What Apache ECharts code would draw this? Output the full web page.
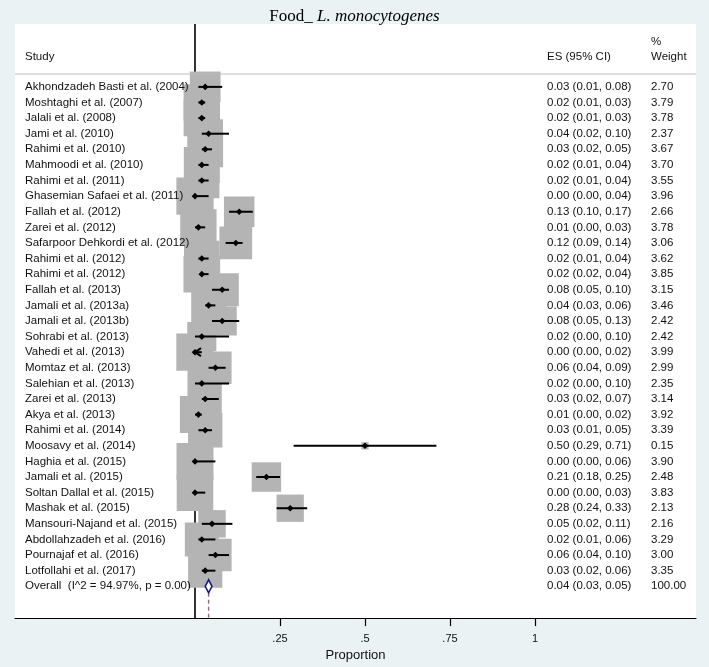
<!DOCTYPE html>
<html><head><meta charset="utf-8">
<script src="https://cdn.jsdelivr.net/npm/echarts@6/dist/echarts.min.js"></script>
<style>html,body{margin:0;padding:0;background:#eaf2f3}#c{width:709px;height:667px}</style>
</head><body><div id="c"></div>
<script>
// ---------- data ----------
const studies = [
  'Akhondzadeh Basti et al. (2004)', 'Moshtaghi et al. (2007)', 'Jalali et al. (2008)', 'Jami et al. (2010)',
  'Rahimi et al. (2010)', 'Mahmoodi et al. (2010)', 'Rahimi et al. (2011)', 'Ghasemian Safaei et al. (2011)',
  'Fallah et al. (2012)', 'Zarei et al. (2012)', 'Safarpoor Dehkordi et al. (2012)', 'Rahimi et al. (2012)',
  'Rahimi et al. (2012)', 'Fallah et al. (2013)', 'Jamali et al. (2013a)', 'Jamali et al. (2013b)',
  'Sohrabi et al. (2013)', 'Vahedi et al. (2013)', 'Momtaz et al. (2013)', 'Salehian et al. (2013)',
  'Zarei et al. (2013)', 'Akya et al. (2013)', 'Rahimi et al. (2014)', 'Moosavy et al. (2014)',
  'Haghia et al. (2015)', 'Jamali et al. (2015)', 'Soltan Dallal et al. (2015)', 'Mashak et al. (2015)',
  'Mansouri-Najand et al. (2015)', 'Abdollahzadeh et al. (2016)', 'Pournajaf et al. (2016)', 'Lotfollahi et al. (2017)'
];
const es =     [0.03,0.02,0.02,0.04,0.03,0.02,0.02,0.00,0.13,0.01,0.12,0.02,0.02,0.08,0.04,0.08,0.02,0.00,0.06,0.02,0.03,0.01,0.03,0.50,0.00,0.21,0.00,0.28,0.05,0.02,0.06,0.03];
const ciLow =  [0.01,0.01,0.01,0.02,0.02,0.01,0.01,0.00,0.10,0.00,0.09,0.01,0.02,0.05,0.03,0.05,0.00,0.00,0.04,0.00,0.02,0.00,0.01,0.29,0.00,0.18,0.00,0.24,0.02,0.01,0.04,0.02];
const ciHigh = [0.08,0.03,0.03,0.10,0.05,0.04,0.04,0.04,0.17,0.03,0.14,0.04,0.04,0.10,0.06,0.13,0.10,0.02,0.09,0.10,0.07,0.02,0.05,0.71,0.06,0.25,0.03,0.33,0.11,0.06,0.10,0.06];
const weights = [2.70,3.79,3.78,2.37,3.67,3.70,3.55,3.96,2.66,3.78,3.06,3.62,3.85,3.15,3.46,2.42,2.42,3.99,2.99,2.35,3.14,3.92,3.39,0.15,3.90,2.48,3.83,2.13,2.16,3.29,3.00,3.35];
const arrowStudies = [17]; // rows whose CI is truncated at the axis (drawn with an arrow)
const overallLabel = ['Overall  (I^2 = 94.97%, p = 0.00)'];
const overallValues = [0.04, 0.03, 0.05, 100.00]; // ES, low, high, weight
const tickValues = [0.25, 0.5, 0.75, 1];
const tickLabels = ['.25', '.5', '.75', '1'];
const headerLabels = ['Study', 'ES (95% CI)', '%', 'Weight'];
const axisTitle = 'Proportion';

// ---------- layout / style ----------
const FONT = 'Liberation Sans, Arial, sans-serif';
const FS = 11.5;
const BOX_K = 18.7;
const X_STUDY = 25, X_ES = 547, X_W = 651;
const TXT = '#111';

const nRows = studies.length;
const rows = studies.map((s, i) => [es[i], i, ciLow[i], ciHigh[i], weights[i]]);
const textRows = studies.map((s, i) => [i]).concat([[nRows]]);

function fmt(v) { return v.toFixed(2); }

const chart = echarts.init(document.getElementById('c'), null, {renderer: 'canvas'});
chart.setOption({
  animation: false,
  backgroundColor: '#eaf2f3',
  title: {
    text: '{a|Food_ }{b|L. monocytogenes}',
    left: 'center', top: 3,
    textStyle: { fontWeight: 'normal', rich: {
      a: { fontFamily: 'Liberation Serif', fontSize: 17, fontWeight: 'normal', color: '#000' },
      b: { fontFamily: 'Liberation Serif', fontSize: 17, fontWeight: 'normal', fontStyle: 'italic', color: '#000' }
    } }
  },
  grid: { left: 15, right: 13, top: 24, bottom: 45, show: true, backgroundColor: '#fff', borderWidth: 0 },
  xAxis: {
    type: 'value', min: -0.5294, max: 1.4735,
    splitLine: { show: false },
    axisLine: { onZero: false, lineStyle: { color: '#000', width: 1.2 } },
    axisTick: { customValues: tickValues, length: 8, lineStyle: { color: '#000', width: 1.2 } },
    axisLabel: { customValues: tickValues, formatter: v => tickLabels[tickValues.indexOf(v)] || '',
      margin: 15, fontSize: 11, color: TXT, fontFamily: FONT },
    name: axisTitle, nameLocation: 'middle', nameGap: 27,
    nameTextStyle: { fontSize: 13, color: TXT, fontFamily: FONT }
  },
  yAxis: { type: 'value', inverse: true, min: -4.03, max: 34.04, show: false },
  graphic: [
    { type: 'line', shape: { x1: 15, y1: 74, x2: 696, y2: 74 }, style: { stroke: '#bdbdbd', lineWidth: 1 }, z: 10 },
    { type: 'text', x: X_STUDY, y: 56.5, style: { text: headerLabels[0], fontSize: FS, fontFamily: FONT, fill: TXT, verticalAlign: 'middle' }, z: 10 },
    { type: 'text', x: X_ES, y: 56.5, style: { text: headerLabels[1], fontSize: FS, fontFamily: FONT, fill: TXT, verticalAlign: 'middle' }, z: 10 },
    { type: 'text', x: X_W, y: 41.7, style: { text: headerLabels[2], fontSize: FS, fontFamily: FONT, fill: TXT, verticalAlign: 'middle' }, z: 10 },
    { type: 'text', x: X_W, y: 56.5, style: { text: headerLabels[3], fontSize: FS, fontFamily: FONT, fill: TXT, verticalAlign: 'middle' }, z: 10 }
  ],
  series: [
    { // zero reference line
      type: 'custom', z: 1, silent: true, data: [[0]],
      renderItem: (params, api) => {
        const cs = params.coordSys;
        const x = api.coord([api.value(0), 0])[0];
        return { type: 'line', shape: { x1: x, y1: cs.y, x2: x, y2: cs.y + cs.height }, style: { stroke: '#000', lineWidth: 1.6 } };
      }
    },
    { // weight boxes
      type: 'custom', z: 2, silent: true, data: rows,
      renderItem: (params, api) => {
        const p = api.coord([api.value(0), api.value(1)]);
        const side = BOX_K * Math.sqrt(api.value(4));
        return { type: 'rect', shape: { x: p[0] - side / 2, y: p[1] - side / 2, width: side, height: side }, style: { fill: '#b4b4b4' } };
      }
    },
    { // CI lines + point estimates
      type: 'custom', z: 3, silent: true, data: rows,
      renderItem: (params, api) => {
        const i = api.value(1);
        const pc = api.coord([api.value(0), i]);
        const xl = api.coord([api.value(2), i])[0];
        const xh = api.coord([api.value(3), i])[0];
        const y = pc[1], x = pc[0], d = 3.3;
        const children = [
          { type: 'line', shape: { x1: xl, y1: y, x2: xh, y2: y }, style: { stroke: '#000', lineWidth: 2 } },
          { type: 'polygon', shape: { points: [[x - d, y], [x, y - d], [x + d, y], [x, y + d]] }, style: { fill: '#000' } }
        ];
        if (arrowStudies.indexOf(i) >= 0) {
          children.push({ type: 'polyline', shape: { points: [[x + 6, y - 4], [x, y], [x + 6, y + 4]] }, style: { stroke: '#000', lineWidth: 2, fill: null } });
        }
        return { type: 'group', children };
      }
    },
    { // overall diamond + dashed line
      type: 'custom', z: 3, silent: true, data: [[overallValues[0], nRows, overallValues[1], overallValues[2]]],
      renderItem: (params, api) => {
        const cs = params.coordSys;
        const i = api.value(1);
        const pc = api.coord([api.value(0), i]);
        const xl = api.coord([api.value(2), i])[0];
        const xh = api.coord([api.value(3), i])[0];
        const y = pc[1], x = pc[0], h = 6.5;
        return { type: 'group', children: [
          { type: 'line', shape: { x1: x, y1: y + h, x2: x, y2: cs.y + cs.height }, style: { stroke: '#a8607e', lineWidth: 1.4, lineDash: [4, 3] } },
          { type: 'polygon', shape: { points: [[xl, y], [x, y - h], [xh, y], [x, y + h]] }, style: { fill: '#fff', stroke: '#1a1a80', lineWidth: 1.6 } }
        ] };
      }
    },
    { // text columns
      type: 'custom', z: 5, silent: true, data: textRows,
      renderItem: (params, api) => {
        const i = api.value(0);
        const y = api.coord([0, i])[1];
        let name, esTxt, wTxt;
        if (i < nRows) {
          name = studies[i];
          esTxt = fmt(es[i]) + ' (' + fmt(ciLow[i]) + ', ' + fmt(ciHigh[i]) + ')';
          wTxt = fmt(weights[i]);
        } else {
          name = overallLabel[0];
          esTxt = fmt(overallValues[0]) + ' (' + fmt(overallValues[1]) + ', ' + fmt(overallValues[2]) + ')';
          wTxt = fmt(overallValues[3]);
        }
        const st = t => ({ text: t, fontSize: FS, fontFamily: FONT, fill: TXT, verticalAlign: 'middle', align: 'left' });
        return { type: 'group', children: [
          { type: 'text', x: X_STUDY, y: y, style: st(name) },
          { type: 'text', x: X_ES, y: y, style: st(esTxt) },
          { type: 'text', x: X_W, y: y, style: st(wTxt) }
        ] };
      }
    }
  ]
});
</script>
</body></html>
